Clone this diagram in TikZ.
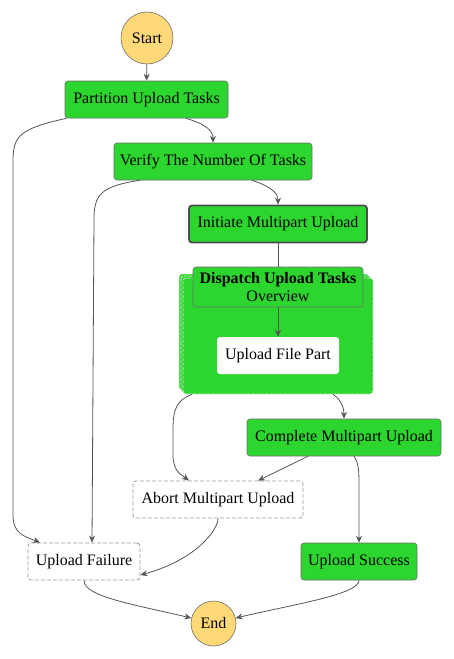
\documentclass[tikz,border=0pt]{standalone}
\usepackage{fontspec}
\setmainfont{Liberation Serif}
\usetikzlibrary{arrows.meta,calc}
\definecolor{stgreen}{RGB}{44,214,46}
\definecolor{styellow}{RGB}{255,217,120}
\definecolor{stborder}{RGB}{110,110,110}
\definecolor{starrow}{RGB}{85,85,85}
\tikzset{
  base/.style={font=\fontsize{16}{18.5}\selectfont, inner sep=0pt, align=center},
  term/.style={base, circle, fill=styellow, draw=stborder, line width=0.6pt},
  task/.style={base, rectangle, rounded corners=3pt, fill=stgreen, draw=stborder, line width=0.6pt, minimum height=37pt},
  failbox/.style={base, rectangle, rounded corners=3pt, fill=white, draw=stborder!70, dash pattern=on 4pt off 2pt, line width=0.8pt, minimum height=37pt},
  layer/.style={rounded corners=3pt, fill=stgreen, draw=white!80!gray, dash pattern=on 3pt off 1.5pt, line width=0.7pt},
  conn/.style={draw=starrow, line width=0.8pt, -{Stealth[length=7pt,width=6pt]}},
  plain/.style={draw=starrow, line width=0.8pt}
}
\begin{document}
\begin{tikzpicture}[x=1pt,y=-1pt]
\useasboundingbox (0,0) rectangle (454,659);
% group layers
\draw[layer] (179,274) rectangle (369,390);
\draw[layer] (181,276) rectangle (371,392);
\node[layer, minimum width=190pt, minimum height=116pt, inner sep=0pt] (grp) at (278,336) {};
% nodes
\node[term, minimum size=52pt] (start) at (147,38) {Start};
\node[task, minimum width=163pt] (part) at (146.5,99.5) {Partition Upload Tasks};
\node[task, minimum width=198pt] (verify) at (213,161.5) {Verify The Number Of Tasks};
\node[task, minimum width=178pt, draw=starrow!90!black, line width=1.8pt] (init) at (278,224) {Initiate Multipart Upload};
\node[task, minimum width=170pt, minimum height=40pt, draw=stborder, fill=stgreen] (head) at (278,287) {\textbf{Dispatch Upload Tasks}\\[-1pt]Overview};
\node[base, rectangle, rounded corners=3pt, fill=white, minimum width=122pt, minimum height=37pt] (filepart) at (278,355.5) {Upload File Part};
\node[task, minimum width=194pt] (complete) at (344,437.5) {Complete Multipart Upload};
\node[failbox, minimum width=170pt] (abort) at (218,499.5) {Abort Multipart Upload};
\node[failbox, minimum width=112pt] (fail) at (84,561.5) {Upload Failure};
\node[task, minimum width=116pt] (success) at (359,561.5) {Upload Success};
\node[term, minimum size=45pt] (end) at (213.5,623.5) {End};
% connectors
\draw[conn] (start) -- (part);
\draw[conn] ([xshift=39.5pt]part.south) .. controls +(20,6) and +(0,-12) .. (verify.north);
\draw[conn] ([xshift=-80pt]part.south) .. controls +(-45,10) and +(0,-25) .. (13,160) -- (13,515) .. controls +(0,20) and +(-14,-6) .. ([xshift=-44pt]fail.north);
\draw[conn] ([xshift=-73pt]verify.south) .. controls +(-40,6) and +(0,-25) .. (94,220) -- ([xshift=8pt]fail.north);
\draw[conn] ([xshift=39pt]verify.south) .. controls +(18,6) and +(0,-12) .. (init.north);
\draw[plain] (init.south) -- (head.north);
\draw[conn] (head.south) -- (filepart.north);
\draw[conn] ([xshift=-86pt]grp.south) .. controls +(-16,6) and +(0,-20) .. (173,430) -- (173,455) .. controls +(0,16) and +(-8,-6) .. ([xshift=-29pt]abort.north);
\draw[conn] ([xshift=55pt]grp.south) .. controls +(9,6) and +(0,-10) .. (complete.north);
\draw[conn] ([xshift=-36pt]complete.south) -- ([xshift=40pt]abort.north);
\draw[conn] ([xshift=10pt]complete.south) .. controls +(5,8) and +(0,-20) .. (359,490) -- (success.north);
\draw[conn] (abort.south) .. controls +(0,12) and +(55,-15) .. ([yshift=-13.5pt]fail.east);
\draw[conn] (fail.south) .. controls +(0,16) and +(-60,-14) .. (end.166);
\draw[conn] (success.south) .. controls +(0,14) and +(60,-14) .. (end.14);
\end{tikzpicture}
\end{document}
